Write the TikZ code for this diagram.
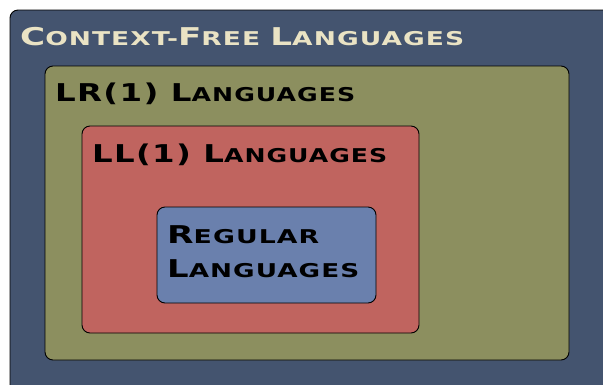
\documentclass[tikz,border=0pt]{standalone}
\usepackage{fontspec}
\setmainfont{DejaVu Sans}
\newfontfamily\copperface{DejaVu Sans Bold}[LetterSpace=4]
% Copperplate-style caps: a large initial followed by smaller capitals
\newcommand\capbig[1]{{\fontsize{24.5}{24.5}\selectfont #1}}
\newcommand\capsmall[1]{{\fontsize{19}{19}\selectfont #1}}
% stretch a label horizontally to a given width, keeping its height
\newcommand\fitto[2]{\resizebox{#1}{\height}{#2}}
\definecolor{cfgblue}{HTML}{44546F}
\definecolor{lrolive}{HTML}{8C8F5F}
\definecolor{llred}{HTML}{C0645F}
\definecolor{regblue}{HTML}{6A80AD}
\definecolor{cream}{HTML}{EAE3C4}
\tikzset{
  langbox/.style={draw=black, line width=0.9pt, rounded corners=8pt},
  langlabel/.style={anchor=base west, inner sep=0pt, font=\copperface},
}
\begin{document}
\begin{tikzpicture}[x=1pt,y=-1pt]
\useasboundingbox (0,0) rectangle (603,384);
\fill[white] (0,0) rectangle (603,384);
% nested language classes
\path[langbox, fill=cfgblue] (10,10) rectangle (615,396);
\path[langbox, fill=lrolive] (45,66) rectangle (569,360);
\path[langbox, fill=llred] (82,126) rectangle (419,333);
\path[langbox, fill=regblue] (157,207) rectangle (376,303);
% labels
\node[langlabel, text=cream] (cfl) at (20,45) {\fitto{444pt}{\capbig{C}\capsmall{ONTEXT-}\capbig{F}\capsmall{REE\ }\capbig{L}\capsmall{ANGUAGES}}};
\node[langlabel] (lr) at (55,101) {\fitto{300pt}{\capbig{LR(1)\ L}\capsmall{ANGUAGES}}};
\node[langlabel] (ll) at (92,162) {\fitto{295pt}{\capbig{LL(1)\ L}\capsmall{ANGUAGES}}};
\node[langlabel] (reg1) at (167,243) {\fitto{152pt}{\capbig{R}\capsmall{EGULAR}}};
\node[langlabel] (reg2) at (167,277) {\fitto{192pt}{\capbig{L}\capsmall{ANGUAGES}}};
\end{tikzpicture}
\end{document}
